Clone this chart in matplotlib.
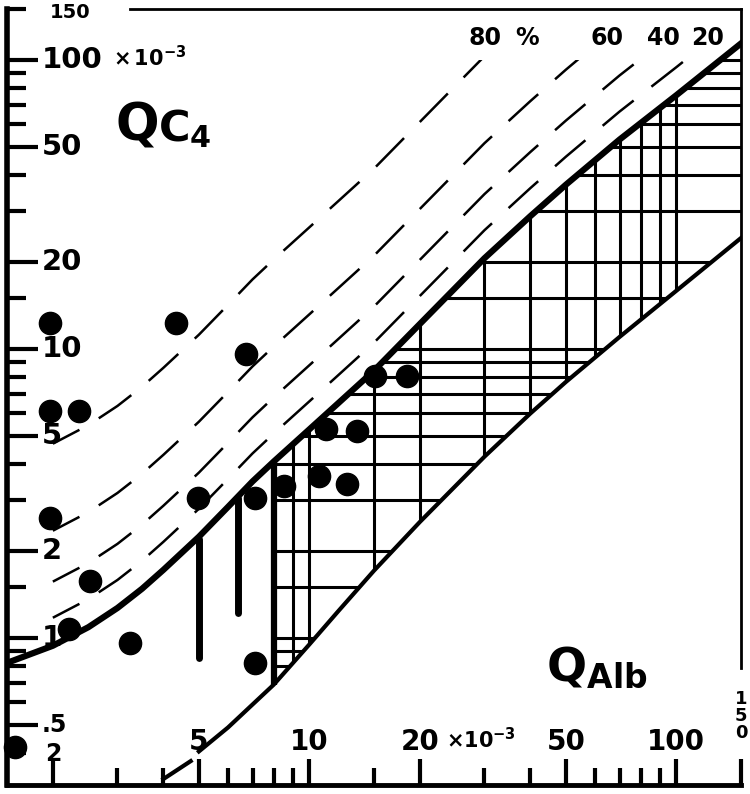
'''
Q_C4 versus Q_Alb quotient diagram (log-log), redrawn from a scanned figure
'''
import matplotlib
matplotlib.use('Agg')
import matplotlib.pyplot as plt
from matplotlib.patches import Polygon, Rectangle
import numpy as np

plt.rcParams['mathtext.default'] = 'bf'

# upper limit curve (thick line), values x 10^-3
upper_x = [1.5, 2, 2.5, 3, 3.5, 4, 5, 6, 7, 8, 10, 12, 15, 20, 30, 40, 50, 70, 100, 150]
upper_y = [0.82, 0.94, 1.09, 1.27, 1.48, 1.72, 2.24, 2.84, 3.48, 4.08, 5.27, 6.5, 8.41,
           12.2, 20.6, 28.8, 37.0, 53.0, 75.5, 114]

# lower limit line
lower_x = [5, 6, 8, 10, 12, 15, 20, 30, 40, 50, 70, 100, 150]
lower_y = [0.405, 0.49, 0.69, 0.95, 1.24, 1.71, 2.52, 4.24, 5.98, 7.69, 11.0, 15.9, 24.2]
lower_dash_x = [4.0, 4.75]
lower_dash_y = [0.325, 0.375]

# intrathecal fraction lines (%)
fractions = [20, 40, 60, 80]

# patient values
dot_x = [1.58, 1.96, 1.96, 2.36, 1.96, 2.53, 2.22, 3.25, 4.32, 6.7,
         4.96, 7.13, 7.13, 8.55, 10.6, 12.7, 11.1, 13.5, 15.1, 18.5]
dot_y = [0.42, 12.3, 6.1, 6.1, 2.6, 1.57, 1.07, 0.96, 12.3, 9.6,
         3.05, 3.05, 0.82, 3.36, 3.64, 3.41, 5.28, 5.2, 8.07, 8.07]

# vertical bars below the curve
bar_x = [5, 6.4]
bar_lo = [0.85, 1.22]
bar_hi = [2.2, 3.05]

# grid lines of the hatched field
grid_x = [9, 10, 15, 20, 30, 40, 50, 60, 70, 80, 90, 100]
grid_y = [0.8, 0.9, 1, 1.5, 2, 3, 4, 5, 6, 7, 8, 9, 10, 15, 20, 30, 40, 50, 60, 70, 80, 90, 100]
field_left = 8

# axis ticks
xticks_major = [2, 5, 10, 20, 50, 100, 150]
xticks_minor = [3, 4, 6, 7, 8, 9, 15, 30, 40, 60, 70, 80, 90]
yticks_major = [0.5, 1, 2, 5, 10, 20, 50, 100]
yticks_minor = [0.4, 0.6, 0.7, 0.8, 0.9, 1.5, 3, 4, 6, 7, 8, 9, 15, 30, 40, 60, 70, 80, 90, 150]
ylabel_vals = [100, 50, 20, 10, 5, 2, 1, 0.5]
ylabel_text = ['100', '50', '20', '10', '5', '2', '1', '.5']
xlabel_vals = [5, 10, 20, 50, 100]
xlabel_text = ['5', '10', '20', '50', '100']

W, H = 750, 794
fig = plt.figure(figsize=(W / 100, H / 100), dpi=100)
ax = fig.add_axes([7 / W, 1 - 785 / H, 734 / W, 776 / H])
ax.set_xscale('log')
ax.set_yscale('log')
ax.set_xlim(1.5, 150)
ax.set_ylim(0.31, 150)


def fx(px):
    return (px - 7) / 734


def fy(py):
    return (785 - py) / 776


# hatched field between the two limits, right of x = 8
up = [(x, y) for x, y in zip(upper_x, upper_y) if x >= field_left]
lo = [(x, y) for x, y in zip(lower_x, lower_y) if x >= field_left]
field = Polygon(up + lo[::-1], closed=True, facecolor='none', edgecolor='none',
                transform=ax.transData)
ax.add_patch(field)
vl = ax.vlines(grid_x, 0.31, 150, colors='k', lw=2.2)
hl = ax.hlines(grid_y, field_left, 150, colors='k', lw=2.2)
vl.set_clip_path(field)
hl.set_clip_path(field)
ax.vlines(field_left, lo[0][1], up[0][1], colors='k', lw=4.5)

# bars
ax.vlines(bar_x, bar_lo, bar_hi, colors='k', lw=5, capstyle='round')

# limit curves
ax.plot(upper_x, upper_y, color='k', lw=4.5, solid_joinstyle='round')
ax.plot(lower_x, lower_y, color='k', lw=3, solid_joinstyle='round')
ax.plot(lower_dash_x, lower_dash_y, color='k', lw=3)

# dashed fraction lines, stopping at 100
box = Rectangle((1.5, 0.31), 148.5, 100 - 0.31, transform=ax.transData,
                facecolor='none', edgecolor='none')
ax.add_patch(box)
ux = np.array(upper_x)
uy = np.array(upper_y)
m = ux >= 2
for f in fractions:
    ln, = ax.plot(ux[m], uy[m] / (1 - f / 100), color='k', lw=1.8,
                  linestyle=(4, (16, 9)))
    ln.set_clip_path(box)

# dots
ax.plot(dot_x, dot_y, 'o', color='k', ms=16, zorder=5, clip_on=False)

# spines and ticks
for s, w in [('left', 4), ('bottom', 3.5), ('top', 2), ('right', 2)]:
    ax.spines[s].set_linewidth(w)
ax.spines['top'].set_bounds(3.24, 150)
ax.spines['right'].set_bounds(0.79, 150)

ax.set_xticks(xticks_major)
ax.set_xticks(xticks_minor, minor=True)
ax.set_yticks(yticks_major)
ax.set_yticks(yticks_minor, minor=True)
ax.tick_params(which='both', direction='in', labelbottom=False, labelleft=False,
               top=False, right=False, width=3)
ax.tick_params(axis='x', which='major', length=19)
ax.tick_params(axis='x', which='minor', length=12)
ax.tick_params(axis='y', which='major', length=22)
ax.tick_params(axis='y', which='minor', length=14)

# tick labels written inside the frame
for v, t in zip(ylabel_vals, ylabel_text):
    size = 17 if t == '.5' else 21
    ax.text(fx(42), v, t, transform=ax.get_yaxis_transform(), ha='left', va='center',
            fontsize=size, fontweight='bold')
ax.text(fx(50), fy(12), '150', transform=ax.transAxes, ha='left', va='center',
        fontsize=14, fontweight='bold')
ax.text(fx(113), fy(58), r'$\times\,10^{-3}$', transform=ax.transAxes,
        ha='left', va='center', fontsize=15)

for v, t in zip(xlabel_vals, xlabel_text):
    ax.text(v, fy(742), t, transform=ax.get_xaxis_transform(), ha='center',
            va='center', fontsize=20, fontweight='bold')
ax.text(2, fy(754), '2', transform=ax.get_xaxis_transform(), ha='center',
        va='center', fontsize=17, fontweight='bold')
ax.text(fx(446), fy(740), r'$\times 10^{-3}$', transform=ax.transAxes,
        ha='left', va='center', fontsize=15)
ax.text(fx(741), fy(716), '1\n5\n0', transform=ax.transAxes, ha='center',
        va='center', fontsize=13, fontweight='bold', linespacing=0.9)

# percent labels
for px, t in [(485, '80'), (527, '%'), (607, '60'), (663, '40'), (708, '20')]:
    ax.text(fx(px), fy(38), t, transform=ax.transAxes, ha='center', va='center',
            fontsize=17, fontweight='bold')

# axis titles
ax.text(fx(116), fy(141), 'Q', transform=ax.transAxes, ha='left',
        va='baseline', fontsize=37, fontweight='bold')
ax.text(fx(158), fy(141), r'$C_4$', transform=ax.transAxes, ha='left',
        va='baseline', fontsize=31)
ax.text(fx(546), fy(680), r'$Q_{Alb}$', transform=ax.transAxes, ha='left',
        va='baseline', fontsize=34)

fig.savefig('out.png', dpi=100)
